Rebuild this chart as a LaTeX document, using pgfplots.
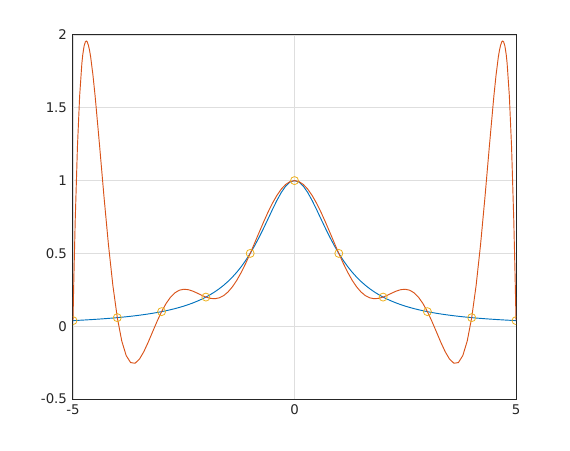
\documentclass[border=0pt]{standalone}
\usepackage{pgfplots}
\pgfplotsset{compat=1.18}
\usepackage{fontspec}
\setmainfont{DejaVu Sans}
\definecolor{oblue}{rgb}{0,0.447,0.741}
\definecolor{ored}{rgb}{0.851,0.325,0.098}
\definecolor{oyel}{rgb}{0.929,0.694,0.125}
\definecolor{axc}{rgb}{0.15,0.15,0.15}
\definecolor{gridc}{rgb}{0.87,0.87,0.87}
\begin{document}
\begin{tikzpicture}
\begin{axis}[
  scale only axis, width=332.25pt, height=273pt,
  xmin=-5, xmax=5, ymin=-0.5, ymax=2,
  xtick={-5,0,5}, ytick={-0.5,0,0.5,1,1.5,2},
  yticklabels={-0.5,0,0.5,1,1.5,2},
  xticklabels={-5,0,5},
  grid=major, major grid style={gridc, line width=0.5pt},
  major tick length=0pt,
  axis line style={axc, line width=0.75pt},
  tick label style={font=\fontsize{10pt}{12pt}\selectfont, text=axc},
  xticklabel style={yshift=-1pt},
  yticklabel style={xshift=-1pt},
  clip=true,
]
\addplot[oblue, line width=0.7pt] coordinates {
(-5.0,0.038462)(-4.9,0.039984)(-4.8,0.041597)(-4.7,0.043309)(-4.6,0.045126)(-4.5,0.047059)(-4.4,0.049116)(-4.3,0.051308)(-4.2,0.053648)(-4.1,0.056148)
(-4.0,0.058824)(-3.9,0.061690)(-3.8,0.064767)(-3.7,0.068074)(-3.6,0.071633)(-3.5,0.075472)(-3.4,0.079618)(-3.3,0.084104)(-3.2,0.088968)(-3.1,0.094251)
(-3.0,0.1)(-2.9,0.106270)(-2.8,0.113122)(-2.7,0.120627)(-2.6,0.128866)(-2.5,0.137931)(-2.4,0.147929)(-2.3,0.158983)(-2.2,0.171233)(-2.1,0.184843)
(-2.0,0.2)(-1.9,0.216920)(-1.8,0.235849)(-1.7,0.257069)(-1.6,0.280899)(-1.5,0.307692)(-1.4,0.337838)(-1.3,0.371747)(-1.2,0.409836)(-1.1,0.452489)
(-1.0,0.5)(-0.9,0.552486)(-0.8,0.609756)(-0.7,0.671141)(-0.6,0.735294)(-0.5,0.8)(-0.4,0.862069)(-0.3,0.917431)(-0.2,0.961538)(-0.1,0.990099)
(0,1)
(0.1,0.990099)(0.2,0.961538)(0.3,0.917431)(0.4,0.862069)(0.5,0.8)(0.6,0.735294)(0.7,0.671141)(0.8,0.609756)(0.9,0.552486)(1.0,0.5)
(1.1,0.452489)(1.2,0.409836)(1.3,0.371747)(1.4,0.337838)(1.5,0.307692)(1.6,0.280899)(1.7,0.257069)(1.8,0.235849)(1.9,0.216920)(2.0,0.2)
(2.1,0.184843)(2.2,0.171233)(2.3,0.158983)(2.4,0.147929)(2.5,0.137931)(2.6,0.128866)(2.7,0.120627)(2.8,0.113122)(2.9,0.106270)(3.0,0.1)
(3.1,0.094251)(3.2,0.088968)(3.3,0.084104)(3.4,0.079618)(3.5,0.075472)(3.6,0.071633)(3.7,0.068074)(3.8,0.064767)(3.9,0.061690)(4.0,0.058824)
(4.1,0.056148)(4.2,0.053648)(4.3,0.051308)(4.4,0.049116)(4.5,0.047059)(4.6,0.045126)(4.7,0.043309)(4.8,0.041597)(4.9,0.039984)(5.0,0.038462)
};
\addplot[ored, line width=0.7pt] coordinates {
(-5.0,0.038462)(-4.99,0.19221)(-4.98,0.33757)(-4.95,0.72607)(-4.9,1.23032)(-4.85,1.58099)(-4.8,1.80439)(-4.78,1.86338)(-4.75,1.92364)(-4.72,1.95370)(-4.7,1.95895)(-4.68,1.95360)(-4.65,1.92795)
(-4.62,1.88394)(-4.6,1.84585)(-4.55,1.72572)(-4.5,1.57872)(-4.4,1.24021)(-4.3,0.88808)(-4.2,0.56044)(-4.1,0.28022)(-4.0,0.058824)
(-3.9,-0.10072)(-3.8,-0.20130)(-3.7,-0.24961)(-3.6,-0.25460)(-3.5,-0.22620)(-3.4,-0.17433)(-3.3,-0.10832)(-3.2,-0.03632)(-3.1,0.03487)(-3.0,0.1)
(-2.9,0.15536)(-2.8,0.19873)(-2.7,0.22923)(-2.6,0.24715)(-2.5,0.25376)(-2.4,0.25102)(-2.3,0.24145)(-2.2,0.22784)(-2.1,0.21309)(-2.0,0.2)
(-1.9,0.19116)(-1.8,0.18878)(-1.7,0.19462)(-1.6,0.20991)(-1.5,0.23535)(-1.4,0.27103)(-1.3,0.31651)(-1.2,0.37083)(-1.1,0.43260)(-1.0,0.5)
(-0.9,0.57095)(-0.8,0.64316)(-0.7,0.71423)(-0.6,0.78175)(-0.5,0.84341)(-0.4,0.89708)(-0.3,0.94090)(-0.2,0.97335)(-0.1,0.99328)
(0,1)
(0.1,0.99328)(0.2,0.97335)(0.3,0.94090)(0.4,0.89708)(0.5,0.84341)(0.6,0.78175)(0.7,0.71423)(0.8,0.64316)(0.9,0.57095)(1.0,0.5)
(1.1,0.43260)(1.2,0.37083)(1.3,0.31651)(1.4,0.27103)(1.5,0.23535)(1.6,0.20991)(1.7,0.19462)(1.8,0.18878)(1.9,0.19116)(2.0,0.2)
(2.1,0.21309)(2.2,0.22784)(2.3,0.24145)(2.4,0.25102)(2.5,0.25376)(2.6,0.24715)(2.7,0.22923)(2.8,0.19873)(2.9,0.15536)(3.0,0.1)
(3.1,0.03487)(3.2,-0.03632)(3.3,-0.10832)(3.4,-0.17433)(3.5,-0.22620)(3.6,-0.25460)(3.7,-0.24961)(3.8,-0.20130)(3.9,-0.10072)(4.0,0.058824)
(4.1,0.28022)(4.2,0.56044)(4.3,0.88808)(4.4,1.24021)(4.5,1.57872)(4.55,1.72572)(4.6,1.84585)(4.62,1.88394)(4.65,1.92795)(4.68,1.95360)(4.7,1.95895)(4.72,1.95370)(4.75,1.92364)
(4.78,1.86338)(4.8,1.80439)(4.85,1.58099)(4.9,1.23032)(4.95,0.72607)(4.98,0.33757)(4.99,0.19221)(5.0,0.038462)
};
\addplot[only marks, mark=o, mark size=3pt, oyel, mark options={line width=0.6pt}, clip mode=individual] coordinates {
(-5,0.038462)(-4,0.058824)(-3,0.1)(-2,0.2)(-1,0.5)(0,1)(1,0.5)(2,0.2)(3,0.1)(4,0.058824)(5,0.038462)
};
\end{axis}
\path[use as bounding box] ([shift={(-54.75pt,-38.25pt)}]current axis.south west) rectangle ([shift={(40.5pt,26.25pt)}]current axis.north east);
\end{tikzpicture}
\end{document}
